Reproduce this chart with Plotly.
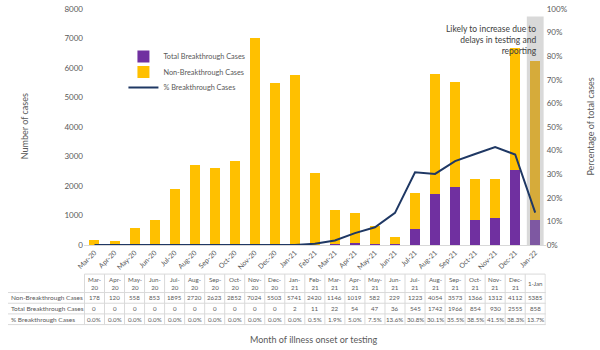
import plotly.graph_objects as go

months = ["Mar-20","Apr-20","May-20","Jun-20","Jul-20","Aug-20","Sep-20","Oct-20","Nov-20","Dec-20",
          "Jan-21","Feb-21","Mar-21","Apr-21","May-21","Jun-21","Jul-21","Aug-21","Sep-21","Oct-21",
          "Nov-21","Dec-21","Jan-22"]
table_headers = ["Mar-<br>20","Apr-<br>20","May-<br>20","Jun-<br>20","Jul-<br>20","Aug-<br>20","Sep-<br>20",
                 "Oct-<br>20","Nov-<br>20","Dec-<br>20","Jan-<br>21","Feb-<br>21","Mar-<br>21","Apr-<br>21",
                 "May-<br>21","Jun-<br>21","Jul-<br>21","Aug-<br>21","Sep-<br>21","Oct-<br>21","Nov-<br>21",
                 "Dec-<br>21","1-Jan"]
non_breakthrough = [178,120,558,853,1895,2720,2623,2852,7024,5503,5741,2420,1146,1019,582,229,1223,4054,3573,1366,1312,4112,5385]
breakthrough = [0,0,0,0,0,0,0,0,0,0,2,11,22,54,47,36,545,1742,1966,854,930,2555,858]
pct_breakthrough = [0.0,0.0,0.0,0.0,0.0,0.0,0.0,0.0,0.0,0.0,0.0,0.5,1.9,5.0,7.5,13.6,30.8,30.1,35.5,38.5,41.5,38.3,13.7]
row_labels = ["Non-Breakthrough Cases", "Total Breakthrough Cases", "% Breakthrough Cases"]

YELLOW = "#FFC000"
PURPLE = "#7030A0"
NAVY = "#1F3864"
TXT = "#595959"
GRID = "#D9D9D9"
FONT = "Lato"

n = len(months)
yellow_cols = [YELLOW] * (n - 1) + ["#D6AB3A"]
purple_cols = [PURPLE] * (n - 1) + ["#7E58A2"]

W, H = 600, 350
x0p, x1p = 77, 545
y0p, y1p = 247, 4


def py(p):
    return 1 - p / H


fig = go.Figure()
fig.add_trace(go.Bar(x=months, y=breakthrough, name="Total Breakthrough Cases", legend="legend",
                     marker=dict(color=purple_cols, line=dict(width=0))))
fig.add_trace(go.Bar(x=months, y=non_breakthrough, name="Non-Breakthrough Cases", legend="legend2",
                     marker=dict(color=yellow_cols, line=dict(width=0))))
fig.add_trace(go.Scatter(x=months, y=pct_breakthrough, name="% Breakthrough Cases", yaxis="y2", legend="legend3",
                         mode="lines", line=dict(color=NAVY, width=2)))

# shaded box behind last month
fig.add_shape(type="rect", xref="x", yref="y", x0=n - 1 - 0.42, x1=n - 1 + 0.42, y0=0, y1=7740,
              fillcolor=GRID, line=dict(width=0), layer="below")

# ---- data table below the chart, aligned to the category axis ----
t_top, t_head, t_rows = 277, 296, [307, 318, 329]
line_style = dict(color=GRID, width=1)
fig.add_shape(type="line", xref="x", yref="paper", x0=-0.5, x1=n - 0.5, y0=py(t_top), y1=py(t_top), line=line_style)
for yy in [t_head] + t_rows:
    fig.add_shape(type="line", xref="paper", yref="paper", x0=0, x1=x1p / W, y0=py(yy), y1=py(yy), line=line_style)
for i in range(n + 1):
    fig.add_shape(type="line", xref="x", yref="paper", x0=i - 0.5, x1=i - 0.5, y0=py(t_top), y1=py(t_rows[-1]),
                  line=line_style)

cell_font = dict(family=FONT, size=6.2, color=TXT)
row_centers = [301.5, 312.5, 323.5]
for i in range(n):
    fig.add_annotation(text=table_headers[i], xref="x", yref="paper", x=i, y=py((t_top + t_head) / 2),
                       showarrow=False, font=cell_font, align="center", xanchor="center", yanchor="middle")
    vals = [f"{non_breakthrough[i]}", f"{breakthrough[i]}", f"{pct_breakthrough[i]:.1f}%"]
    for v, yc in zip(vals, row_centers):
        fig.add_annotation(text=v, xref="x", yref="paper", x=i, y=py(yc), showarrow=False,
                           font=cell_font, xanchor="center", yanchor="middle")
for lab, yc in zip(row_labels, row_centers):
    fig.add_annotation(text=lab, xref="paper", yref="paper", x=1 / W, y=py(yc), showarrow=False,
                       font=dict(family=FONT, size=6.5, color=TXT), xanchor="left", yanchor="middle")

fig.add_annotation(text="Likely to increase due to<br>delays in testing and<br>reporting",
                   xref="paper", yref="paper", x=538 / W, y=py(17), xanchor="right", yanchor="top",
                   align="right", showarrow=False, font=dict(family=FONT, size=8.5, color="#404040"))
fig.add_annotation(text="Number of cases", xref="paper", yref="paper", x=17 / W, y=py(125),
                   xanchor="center", yanchor="middle",
                   textangle=-90, showarrow=False, font=dict(family=FONT, size=9, color=TXT))
fig.add_annotation(text="Percentage of total cases", xref="paper", yref="paper", x=590 / W, y=py(125),
                   xanchor="center", yanchor="middle",
                   textangle=-90, showarrow=False, font=dict(family=FONT, size=9, color=TXT))
fig.add_annotation(text="Month of illness onset or testing", xref="paper", yref="paper", x=310 / W, y=py(344),
                   xanchor="center", yanchor="middle",
                   showarrow=False, font=dict(family=FONT, size=9, color=TXT))

leg_common = dict(xanchor="left", yanchor="top", font=dict(family=FONT, size=7.3, color=TXT),
                  bgcolor="rgba(0,0,0,0)", itemwidth=30)
fig.update_layout(
    width=W, height=H, autosize=False,
    margin=dict(l=0, r=0, t=0, b=0),
    paper_bgcolor="white", plot_bgcolor="white",
    barmode="stack", bargap=0.5,
    font=dict(family=FONT, color=TXT),
    showlegend=True,
    legend=dict(x=117 / W, y=py(38), **leg_common),
    legend2=dict(x=117 / W, y=py(54), **leg_common),
    legend3=dict(x=117 / W, y=py(70), **leg_common),
    xaxis=dict(domain=[x0p / W, x1p / W], type="category", tickangle=-45,
               tickfont=dict(family=FONT, size=7, color=TXT), showline=True, linecolor=GRID,
               ticks="", showgrid=False, fixedrange=True),
    yaxis=dict(domain=[py(y0p), py(y1p)], range=[0, 8000], dtick=1000, showgrid=False,
               zeroline=False, tickfont=dict(family=FONT, size=8, color=TXT), ticks="", showline=False,
               ticklabeloverflow="allow"),
    yaxis2=dict(overlaying="y", side="right", range=[0, 100], dtick=10, ticksuffix="%", showgrid=False,
                zeroline=False, tickfont=dict(family=FONT, size=8, color=TXT), ticks="", showline=False,
                ticklabeloverflow="allow"),
)

fig.write_html("out.html")
